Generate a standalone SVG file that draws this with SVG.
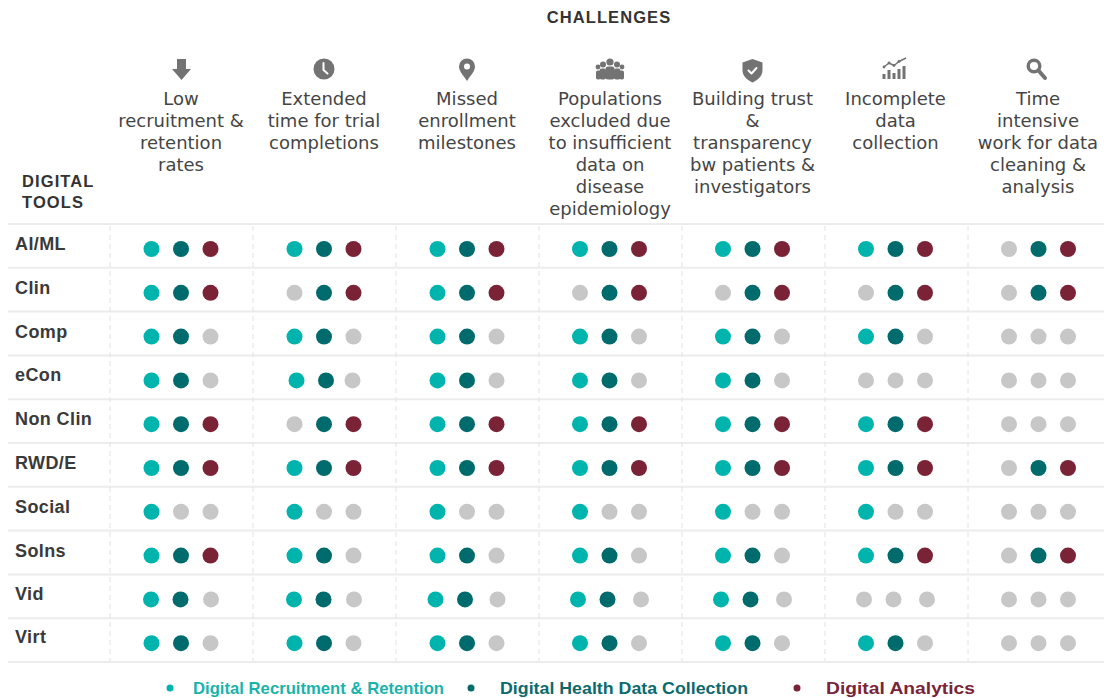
<svg xmlns="http://www.w3.org/2000/svg" width="1104" height="698" viewBox="0 0 1104 698">
<style>
.bg{fill:#ffffff}
.hl{stroke:#ececec;stroke-width:2}
.vl{stroke:#e2e2e2;stroke-width:1;stroke-dasharray:5 4}
.title{font-family:"Liberation Sans",Arial,sans-serif;font-weight:700;font-size:16.5px;letter-spacing:1.1px;fill:#333333}
.hd{font-family:"DejaVu Sans","Liberation Sans",sans-serif;font-size:18px;fill:#454545;text-anchor:middle}
.lab{font-family:"Liberation Sans",Arial,sans-serif;font-weight:700;font-size:18px;letter-spacing:0.4px;fill:#3a3a3a}
.ic{fill:#737373}
.icw{fill:none;stroke:#ffffff;stroke-width:2;stroke-linecap:round;stroke-linejoin:round}
.a{fill:#00b4ae}
.b{fill:#006b6d}
.c{fill:#7b2336}
.g{fill:#c7c7c7}
.lg{font-family:"Liberation Sans",Arial,sans-serif;font-weight:700;font-size:17px}
</style>
<rect class="bg" x="0" y="0" width="1104" height="698"/>

<g id="grid">
<line class="hl" x1="8" y1="224" x2="1104" y2="224"/>
<line class="hl" x1="8" y1="267.8" x2="1104" y2="267.8"/>
<line class="hl" x1="8" y1="311.6" x2="1104" y2="311.6"/>
<line class="hl" x1="8" y1="355.4" x2="1104" y2="355.4"/>
<line class="hl" x1="8" y1="399.2" x2="1104" y2="399.2"/>
<line class="hl" x1="8" y1="443" x2="1104" y2="443"/>
<line class="hl" x1="8" y1="486.8" x2="1104" y2="486.8"/>
<line class="hl" x1="8" y1="530.6" x2="1104" y2="530.6"/>
<line class="hl" x1="8" y1="574.4" x2="1104" y2="574.4"/>
<line class="hl" x1="8" y1="618.2" x2="1104" y2="618.2"/>
<line class="hl" x1="8" y1="662" x2="1104" y2="662"/>
<line class="vl" x1="110" y1="226" x2="110" y2="661"/>
<line class="vl" x1="253" y1="226" x2="253" y2="661"/>
<line class="vl" x1="396" y1="226" x2="396" y2="661"/>
<line class="vl" x1="539" y1="226" x2="539" y2="661"/>
<line class="vl" x1="682" y1="226" x2="682" y2="661"/>
<line class="vl" x1="825" y1="226" x2="825" y2="661"/>
<line class="vl" x1="968" y1="226" x2="968" y2="661"/>
</g>

<g id="titles">
<text class="title" x="609" y="23" text-anchor="middle">CHALLENGES</text>
<text class="title" x="22" y="187">DIGITAL</text>
<text class="title" x="22" y="208">TOOLS</text>
</g>

<g id="col1-head">
<path class="ic" d="M177,59 H186 V69 H191 L181.5,80 L172,69 H177 Z"/>
<text class="hd"><tspan x="181" y="105">Low</tspan><tspan x="181" y="127">recruitment &amp;</tspan><tspan x="181" y="149">retention</tspan><tspan x="181" y="171">rates</tspan></text>
</g>
<g id="col2-head">
<circle class="ic" cx="324" cy="69" r="10.5"/>
<path class="icw" d="M323.5,63 V70 L327.5,73.5"/>
<text class="hd"><tspan x="324" y="105">Extended</tspan><tspan x="324" y="127">time for trial</tspan><tspan x="324" y="149">completions</tspan></text>
</g>
<g id="col3-head">
<path class="ic" d="M467,81 C463,75 459,71 459,66.5 A8,8 0 1 1 475,66.5 C475,71 471,75 467,81 Z"/>
<circle cx="467" cy="66.5" r="3" fill="#ffffff"/>
<text class="hd"><tspan x="467" y="105">Missed</tspan><tspan x="467" y="127">enrollment</tspan><tspan x="467" y="149">milestones</tspan></text>
</g>
<g id="col4-head">
<circle class="ic" cx="610" cy="62" r="3.6"/>
<rect class="ic" x="605.5" y="66.5" width="9" height="13" rx="2.5"/>
<circle class="ic" cx="603" cy="64.5" r="3"/>
<rect class="ic" x="599.5" y="68.5" width="6.5" height="11" rx="2"/>
<circle class="ic" cx="617" cy="64.5" r="3"/>
<rect class="ic" x="614" y="68.5" width="6.5" height="11" rx="2"/>
<circle class="ic" cx="598" cy="67" r="2.4"/>
<rect class="ic" x="596" y="70.5" width="4.5" height="9" rx="1.8"/>
<circle class="ic" cx="622" cy="67" r="2.4"/>
<rect class="ic" x="619.5" y="70.5" width="4.5" height="9" rx="1.8"/>
<text class="hd"><tspan x="610" y="105">Populations</tspan><tspan x="610" y="127">excluded due</tspan><tspan x="610" y="149">to insufficient</tspan><tspan x="610" y="171">data on</tspan><tspan x="610" y="193">disease</tspan><tspan x="610" y="215">epidemiology</tspan></text>
</g>
<g id="col5-head">
<path class="ic" d="M752.5,59 L762.5,62.5 V70 C762.5,76 758,80 752.5,82.5 C747,80 742.5,76 742.5,70 V62.5 Z"/>
<path class="icw" d="M748.5,70.5 L751.5,73.5 L756.5,68" stroke-width="1.8"/>
<text class="hd"><tspan x="752.5" y="105">Building trust</tspan><tspan x="752.5" y="127">&amp;</tspan><tspan x="752.5" y="149">transparency</tspan><tspan x="752.5" y="171">bw patients &amp;</tspan><tspan x="752.5" y="193">investigators</tspan></text>
</g>
<g id="col6-head">
<rect class="ic" x="882.5" y="74" width="3" height="5"/>
<rect class="ic" x="887.5" y="70" width="3" height="9"/>
<rect class="ic" x="892.5" y="73" width="3" height="6"/>
<rect class="ic" x="897.5" y="69" width="3" height="10"/>
<rect class="ic" x="902.5" y="66" width="3" height="13"/>
<polyline points="884,67 889,63 894,65.5 899,61.5 906,58" fill="none" stroke="#737373" stroke-width="1.5" stroke-linejoin="round"/>
<circle class="ic" cx="884" cy="67" r="1.4"/>
<circle class="ic" cx="889" cy="63" r="1.4"/>
<circle class="ic" cx="894" cy="65.5" r="1.4"/>
<circle class="ic" cx="899" cy="61.5" r="1.4"/>
<text class="hd"><tspan x="895.5" y="105">Incomplete</tspan><tspan x="895.5" y="127">data</tspan><tspan x="895.5" y="149">collection</tspan></text>
</g>
<g id="col7-head">
<circle cx="1034" cy="66" r="5.8" fill="none" stroke="#737373" stroke-width="3.4"/>
<line x1="1038.5" y1="70.5" x2="1045" y2="78" stroke="#737373" stroke-width="4" stroke-linecap="round"/>
<text class="hd"><tspan x="1038" y="105">Time</tspan><tspan x="1038" y="127">intensive</tspan><tspan x="1038" y="149">work for data</tspan><tspan x="1038" y="171">cleaning &amp;</tspan><tspan x="1038" y="193">analysis</tspan></text>
</g>

<g id="row-aiml" transform="translate(0,249)">
<text class="lab" x="15" y="1">AI/ML</text>
<circle class="a" cx="151.5" cy="0" r="8"/><circle class="b" cx="181" cy="0" r="8"/><circle class="c" cx="210.5" cy="0" r="8"/>
<circle class="a" cx="294.5" cy="0" r="8"/><circle class="b" cx="324" cy="0" r="8"/><circle class="c" cx="353.5" cy="0" r="8"/>
<circle class="a" cx="437.5" cy="0" r="8"/><circle class="b" cx="467" cy="0" r="8"/><circle class="c" cx="496.5" cy="0" r="8"/>
<circle class="a" cx="580" cy="0" r="8"/><circle class="b" cx="609.5" cy="0" r="8"/><circle class="c" cx="639" cy="0" r="8"/>
<circle class="a" cx="723" cy="0" r="8"/><circle class="b" cx="752.5" cy="0" r="8"/><circle class="c" cx="782" cy="0" r="8"/>
<circle class="a" cx="866" cy="0" r="8"/><circle class="b" cx="895.5" cy="0" r="8"/><circle class="c" cx="925" cy="0" r="8"/>
<circle class="g" cx="1009" cy="0" r="8"/><circle class="b" cx="1038.5" cy="0" r="8"/><circle class="c" cx="1068" cy="0" r="8"/>
</g>
<g id="row-clin" transform="translate(0,292.8)">
<text class="lab" x="15" y="1">Clin</text>
<circle class="a" cx="151.5" cy="0" r="8"/><circle class="b" cx="181" cy="0" r="8"/><circle class="c" cx="210.5" cy="0" r="8"/>
<circle class="g" cx="294.5" cy="0" r="8"/><circle class="b" cx="324" cy="0" r="8"/><circle class="c" cx="353.5" cy="0" r="8"/>
<circle class="a" cx="437.5" cy="0" r="8"/><circle class="b" cx="467" cy="0" r="8"/><circle class="c" cx="496.5" cy="0" r="8"/>
<circle class="g" cx="580" cy="0" r="8"/><circle class="b" cx="609.5" cy="0" r="8"/><circle class="c" cx="639" cy="0" r="8"/>
<circle class="g" cx="723" cy="0" r="8"/><circle class="b" cx="752.5" cy="0" r="8"/><circle class="c" cx="782" cy="0" r="8"/>
<circle class="g" cx="866" cy="0" r="8"/><circle class="b" cx="895.5" cy="0" r="8"/><circle class="c" cx="925" cy="0" r="8"/>
<circle class="g" cx="1009" cy="0" r="8"/><circle class="b" cx="1038.5" cy="0" r="8"/><circle class="c" cx="1068" cy="0" r="8"/>
</g>
<g id="row-comp" transform="translate(0,336.6)">
<text class="lab" x="15" y="1">Comp</text>
<circle class="a" cx="151.5" cy="0" r="8"/><circle class="b" cx="181" cy="0" r="8"/><circle class="g" cx="210.5" cy="0" r="8"/>
<circle class="a" cx="294.5" cy="0" r="8"/><circle class="b" cx="324" cy="0" r="8"/><circle class="g" cx="353.5" cy="0" r="8"/>
<circle class="a" cx="437.5" cy="0" r="8"/><circle class="b" cx="467" cy="0" r="8"/><circle class="g" cx="496.5" cy="0" r="8"/>
<circle class="a" cx="580" cy="0" r="8"/><circle class="b" cx="609.5" cy="0" r="8"/><circle class="g" cx="639" cy="0" r="8"/>
<circle class="a" cx="723" cy="0" r="8"/><circle class="b" cx="752.5" cy="0" r="8"/><circle class="g" cx="782" cy="0" r="8"/>
<circle class="a" cx="866" cy="0" r="8"/><circle class="b" cx="895.5" cy="0" r="8"/><circle class="g" cx="925" cy="0" r="8"/>
<circle class="g" cx="1009" cy="0" r="8"/><circle class="g" cx="1038.5" cy="0" r="8"/><circle class="g" cx="1068" cy="0" r="8"/>
</g>
<g id="row-econ" transform="translate(0,380.4)">
<text class="lab" x="15" y="1">eCon</text>
<circle class="a" cx="151.5" cy="0" r="8"/><circle class="b" cx="181" cy="0" r="8"/><circle class="g" cx="210.5" cy="0" r="8"/>
<circle class="a" cx="296.5" cy="0" r="8"/><circle class="b" cx="326" cy="0" r="8"/><circle class="g" cx="352.5" cy="0" r="8"/>
<circle class="a" cx="437.5" cy="0" r="8"/><circle class="b" cx="467" cy="0" r="8"/><circle class="g" cx="496.5" cy="0" r="8"/>
<circle class="a" cx="580" cy="0" r="8"/><circle class="b" cx="609.5" cy="0" r="8"/><circle class="g" cx="639" cy="0" r="8"/>
<circle class="a" cx="723" cy="0" r="8"/><circle class="b" cx="752.5" cy="0" r="8"/><circle class="g" cx="782" cy="0" r="8"/>
<circle class="g" cx="866" cy="0" r="8"/><circle class="g" cx="895.5" cy="0" r="8"/><circle class="g" cx="925" cy="0" r="8"/>
<circle class="g" cx="1009" cy="0" r="8"/><circle class="g" cx="1038.5" cy="0" r="8"/><circle class="g" cx="1068" cy="0" r="8"/>
</g>
<g id="row-nonclin" transform="translate(0,424.2)">
<text class="lab" x="15" y="1">Non Clin</text>
<circle class="a" cx="151.5" cy="0" r="8"/><circle class="b" cx="181" cy="0" r="8"/><circle class="c" cx="210.5" cy="0" r="8"/>
<circle class="g" cx="294.5" cy="0" r="8"/><circle class="b" cx="324" cy="0" r="8"/><circle class="c" cx="353.5" cy="0" r="8"/>
<circle class="a" cx="437.5" cy="0" r="8"/><circle class="b" cx="467" cy="0" r="8"/><circle class="c" cx="496.5" cy="0" r="8"/>
<circle class="a" cx="580" cy="0" r="8"/><circle class="b" cx="609.5" cy="0" r="8"/><circle class="c" cx="639" cy="0" r="8"/>
<circle class="a" cx="723" cy="0" r="8"/><circle class="b" cx="752.5" cy="0" r="8"/><circle class="c" cx="782" cy="0" r="8"/>
<circle class="a" cx="866" cy="0" r="8"/><circle class="b" cx="895.5" cy="0" r="8"/><circle class="c" cx="925" cy="0" r="8"/>
<circle class="g" cx="1009" cy="0" r="8"/><circle class="g" cx="1038.5" cy="0" r="8"/><circle class="g" cx="1068" cy="0" r="8"/>
</g>
<g id="row-rwde" transform="translate(0,468)">
<text class="lab" x="15" y="1">RWD/E</text>
<circle class="a" cx="151.5" cy="0" r="8"/><circle class="b" cx="181" cy="0" r="8"/><circle class="c" cx="210.5" cy="0" r="8"/>
<circle class="a" cx="294.5" cy="0" r="8"/><circle class="b" cx="324" cy="0" r="8"/><circle class="c" cx="353.5" cy="0" r="8"/>
<circle class="a" cx="437.5" cy="0" r="8"/><circle class="b" cx="467" cy="0" r="8"/><circle class="c" cx="496.5" cy="0" r="8"/>
<circle class="a" cx="580" cy="0" r="8"/><circle class="b" cx="609.5" cy="0" r="8"/><circle class="c" cx="639" cy="0" r="8"/>
<circle class="a" cx="723" cy="0" r="8"/><circle class="b" cx="752.5" cy="0" r="8"/><circle class="c" cx="782" cy="0" r="8"/>
<circle class="a" cx="866" cy="0" r="8"/><circle class="b" cx="895.5" cy="0" r="8"/><circle class="c" cx="925" cy="0" r="8"/>
<circle class="g" cx="1009" cy="0" r="8"/><circle class="b" cx="1038.5" cy="0" r="8"/><circle class="c" cx="1068" cy="0" r="8"/>
</g>
<g id="row-social" transform="translate(0,511.8)">
<text class="lab" x="15" y="1">Social</text>
<circle class="a" cx="151.5" cy="0" r="8"/><circle class="g" cx="181" cy="0" r="8"/><circle class="g" cx="210.5" cy="0" r="8"/>
<circle class="a" cx="294.5" cy="0" r="8"/><circle class="g" cx="324" cy="0" r="8"/><circle class="g" cx="353.5" cy="0" r="8"/>
<circle class="a" cx="437.5" cy="0" r="8"/><circle class="g" cx="467" cy="0" r="8"/><circle class="g" cx="496.5" cy="0" r="8"/>
<circle class="a" cx="580" cy="0" r="8"/><circle class="g" cx="609.5" cy="0" r="8"/><circle class="g" cx="639" cy="0" r="8"/>
<circle class="a" cx="723" cy="0" r="8"/><circle class="g" cx="752.5" cy="0" r="8"/><circle class="g" cx="782" cy="0" r="8"/>
<circle class="a" cx="866" cy="0" r="8"/><circle class="g" cx="895.5" cy="0" r="8"/><circle class="g" cx="925" cy="0" r="8"/>
<circle class="g" cx="1009" cy="0" r="8"/><circle class="g" cx="1038.5" cy="0" r="8"/><circle class="g" cx="1068" cy="0" r="8"/>
</g>
<g id="row-solns" transform="translate(0,555.6)">
<text class="lab" x="15" y="1">Solns</text>
<circle class="a" cx="151.5" cy="0" r="8"/><circle class="b" cx="181" cy="0" r="8"/><circle class="c" cx="210.5" cy="0" r="8"/>
<circle class="a" cx="294.5" cy="0" r="8"/><circle class="b" cx="324" cy="0" r="8"/><circle class="g" cx="353.5" cy="0" r="8"/>
<circle class="a" cx="437.5" cy="0" r="8"/><circle class="b" cx="467" cy="0" r="8"/><circle class="g" cx="496.5" cy="0" r="8"/>
<circle class="a" cx="580" cy="0" r="8"/><circle class="b" cx="609.5" cy="0" r="8"/><circle class="g" cx="639" cy="0" r="8"/>
<circle class="a" cx="723" cy="0" r="8"/><circle class="b" cx="752.5" cy="0" r="8"/><circle class="g" cx="782" cy="0" r="8"/>
<circle class="a" cx="866" cy="0" r="8"/><circle class="b" cx="895.5" cy="0" r="8"/><circle class="c" cx="925" cy="0" r="8"/>
<circle class="g" cx="1009" cy="0" r="8"/><circle class="b" cx="1038.5" cy="0" r="8"/><circle class="c" cx="1068" cy="0" r="8"/>
</g>
<g id="row-vid" transform="translate(0,599.4)">
<text class="lab" x="15" y="1">Vid</text>
<circle class="a" cx="151" cy="0" r="8"/><circle class="b" cx="180.5" cy="0" r="8"/><circle class="g" cx="211" cy="0" r="8"/>
<circle class="a" cx="294" cy="0" r="8"/><circle class="b" cx="323.5" cy="0" r="8"/><circle class="g" cx="354" cy="0" r="8"/>
<circle class="a" cx="435.5" cy="0" r="8"/><circle class="b" cx="465" cy="0" r="8"/><circle class="g" cx="497.5" cy="0" r="8"/>
<circle class="a" cx="578" cy="0" r="8"/><circle class="b" cx="607.5" cy="0" r="8"/><circle class="g" cx="641" cy="0" r="8"/>
<circle class="a" cx="721" cy="0" r="8"/><circle class="b" cx="750.5" cy="0" r="8"/><circle class="g" cx="784" cy="0" r="8"/>
<circle class="g" cx="864" cy="0" r="8"/><circle class="g" cx="893.5" cy="0" r="8"/><circle class="g" cx="927" cy="0" r="8"/>
<circle class="g" cx="1009" cy="0" r="8"/><circle class="g" cx="1038.5" cy="0" r="8"/><circle class="g" cx="1068" cy="0" r="8"/>
</g>
<g id="row-virt" transform="translate(0,643.2)">
<text class="lab" x="15" y="0">Virt</text>
<circle class="a" cx="151.5" cy="0" r="8"/><circle class="b" cx="181" cy="0" r="8"/><circle class="g" cx="210.5" cy="0" r="8"/>
<circle class="a" cx="294.5" cy="0" r="8"/><circle class="b" cx="324" cy="0" r="8"/><circle class="g" cx="353.5" cy="0" r="8"/>
<circle class="a" cx="437.5" cy="0" r="8"/><circle class="b" cx="467" cy="0" r="8"/><circle class="g" cx="496.5" cy="0" r="8"/>
<circle class="a" cx="580" cy="0" r="8"/><circle class="b" cx="609.5" cy="0" r="8"/><circle class="g" cx="639" cy="0" r="8"/>
<circle class="a" cx="723" cy="0" r="8"/><circle class="b" cx="752.5" cy="0" r="8"/><circle class="g" cx="782" cy="0" r="8"/>
<circle class="a" cx="866" cy="0" r="8"/><circle class="b" cx="895.5" cy="0" r="8"/><circle class="g" cx="925" cy="0" r="8"/>
<circle class="g" cx="1009" cy="0" r="8"/><circle class="g" cx="1038.5" cy="0" r="8"/><circle class="g" cx="1068" cy="0" r="8"/>
</g>

<g id="legend">
<circle class="a" cx="170" cy="688" r="3.5"/>
<text class="lg" x="193" y="694" fill="#1ab3ac" textLength="251" lengthAdjust="spacingAndGlyphs">Digital Recruitment &amp; Retention</text>
<circle class="b" cx="471" cy="688" r="3.5"/>
<text class="lg" x="500" y="694" fill="#0c6a6e" textLength="248" lengthAdjust="spacingAndGlyphs">Digital Health Data Collection</text>
<circle class="c" cx="797" cy="688" r="3.5"/>
<text class="lg" x="826" y="694" fill="#7a2438" textLength="149" lengthAdjust="spacingAndGlyphs">Digital Analytics</text>
</g>
</svg>
